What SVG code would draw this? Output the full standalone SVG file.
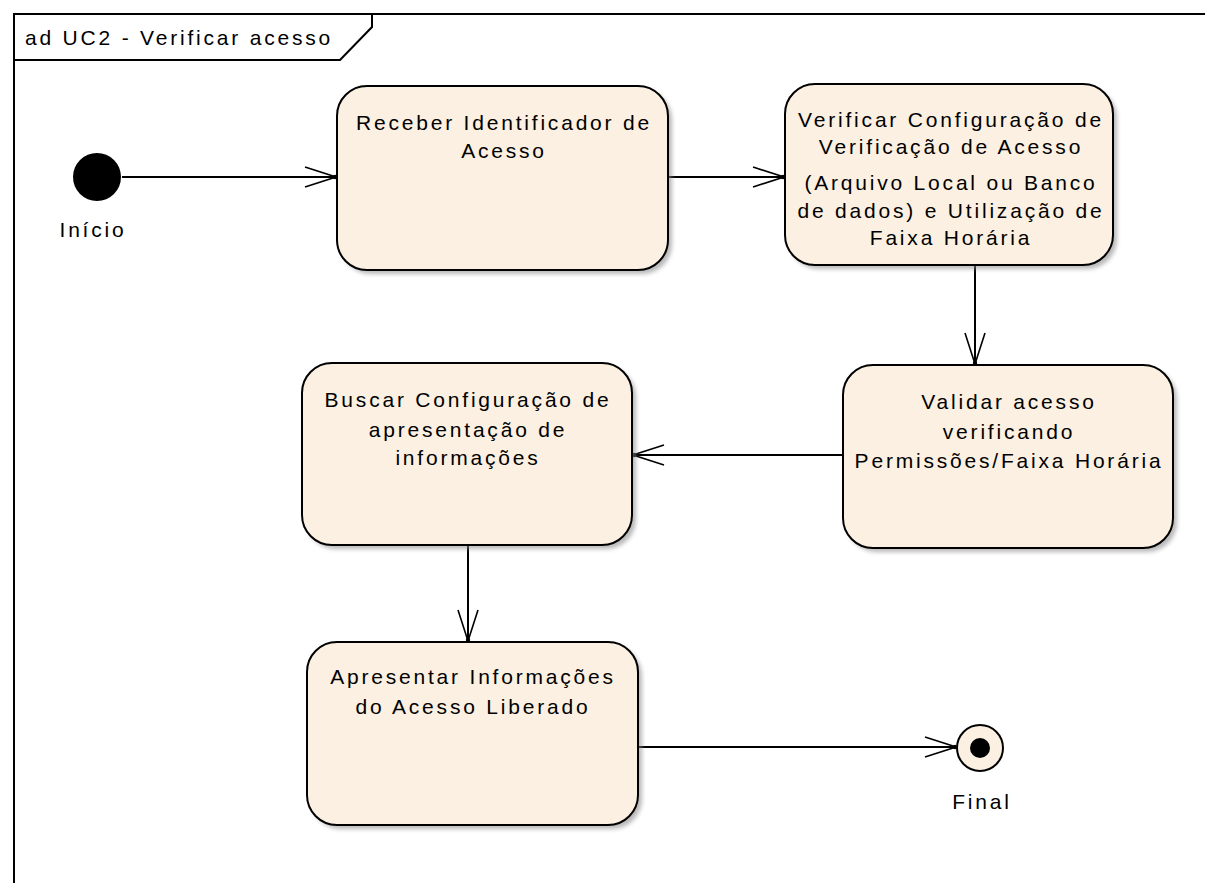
<svg xmlns="http://www.w3.org/2000/svg" width="1205" height="883" viewBox="0 0 1205 883">
  <defs>
    <style>
      .frame { fill: none; stroke: #000; stroke-width: 2; }
      .act { fill: #FBF0E2; stroke: #000; stroke-width: 2; }
      .shadow { fill: #8a8a8a; opacity: 0.6; filter: url(#soft); }
      .lbl { font-family: "Liberation Sans", Arial, sans-serif; font-size: 21px; letter-spacing: 2.8px; fill: #000; text-anchor: middle; }
      .title { font-family: "Liberation Sans", Arial, sans-serif; font-size: 21px; letter-spacing: 2.8px; fill: #000; }
      .flow { fill: none; stroke: #000; stroke-width: 2; marker-end: url(#open); }
    </style>
    <filter id="soft" x="-10%" y="-10%" width="120%" height="120%">
      <feGaussianBlur stdDeviation="2"/>
    </filter>
    <marker id="open" viewBox="-32 -12 34 24" refX="0" refY="0" markerWidth="34" markerHeight="24" markerUnits="userSpaceOnUse" orient="auto">
      <path d="M-31,-10 L0,0 L-31,10" fill="none" stroke="#000" stroke-width="1.6"/>
      <circle cx="-1" cy="0" r="2.2" fill="#000"/>
    </marker>
  </defs>

  <rect width="1205" height="883" fill="#fff"/>

  <!-- diagram frame with name tab -->
  <g id="frame">
    <path class="frame" d="M14,883 L14,14 L1205,14"/>
    <path class="frame" d="M14,60 L340,60 L372,27 L372,14"/>
    <text class="title" x="25" y="45">ad UC2 - Verificar acesso</text>
  </g>

  <!-- control flows -->
  <g id="connectors">
    <line class="flow" x1="122" y1="177" x2="336" y2="177"/>
    <line class="flow" x1="668" y1="177" x2="784" y2="177"/>
    <line class="flow" x1="975" y1="265" x2="975" y2="364"/>
    <line class="flow" x1="843" y1="455" x2="633" y2="455"/>
    <line class="flow" x1="468" y1="545" x2="468" y2="641"/>
    <line class="flow" x1="638" y1="747" x2="956" y2="747"/>
  </g>

  <g id="inicio">
    <circle cx="97" cy="177" r="24" fill="#000"/>
    <text class="lbl" x="93" y="237">Início</text>
  </g>

  <g id="receber">
    <rect class="shadow" x="341" y="90" width="331" height="184" rx="30"/>
    <rect class="act" x="337" y="86" width="331" height="184" rx="30"/>
    <text class="lbl" x="504" y="130">Receber Identificador de</text>
    <text class="lbl" x="504" y="158">Acesso</text>
  </g>

  <g id="verificar">
    <rect class="shadow" x="789" y="88" width="328" height="181" rx="30"/>
    <rect class="act" x="785" y="84" width="328" height="181" rx="30"/>
    <text class="lbl" x="951" y="127">Verificar Configuração de</text>
    <text class="lbl" x="951" y="154">Verificação de Acesso</text>
    <text class="lbl" x="951" y="190">(Arquivo Local ou Banco</text>
    <text class="lbl" x="951" y="218">de dados) e Utilização de</text>
    <text class="lbl" x="951" y="245">Faixa Horária</text>
  </g>

  <g id="validar">
    <rect class="shadow" x="847" y="369" width="330" height="183" rx="30"/>
    <rect class="act" x="843" y="365" width="330" height="183" rx="30"/>
    <text class="lbl" x="1009" y="409">Validar acesso</text>
    <text class="lbl" x="1009" y="439">verificando</text>
    <text class="lbl" x="1009" y="468">Permissões/Faixa Horária</text>
  </g>

  <g id="buscar">
    <rect class="shadow" x="306" y="367" width="330" height="182" rx="30"/>
    <rect class="act" x="302" y="363" width="330" height="182" rx="30"/>
    <text class="lbl" x="468" y="407">Buscar Configuração de</text>
    <text class="lbl" x="468" y="437">apresentação de</text>
    <text class="lbl" x="468" y="465">informações</text>
  </g>

  <g id="apresentar">
    <rect class="shadow" x="311" y="646" width="331" height="183" rx="30"/>
    <rect class="act" x="307" y="642" width="331" height="183" rx="30"/>
    <text class="lbl" x="473" y="684">Apresentar Informações</text>
    <text class="lbl" x="473" y="714">do Acesso Liberado</text>
  </g>

  <g id="final">
    <circle cx="980" cy="748" r="23" fill="#FBF0E2" stroke="#000" stroke-width="2"/>
    <circle cx="980" cy="748" r="10" fill="#000"/>
    <text class="lbl" x="982" y="809">Final</text>
  </g>
</svg>
